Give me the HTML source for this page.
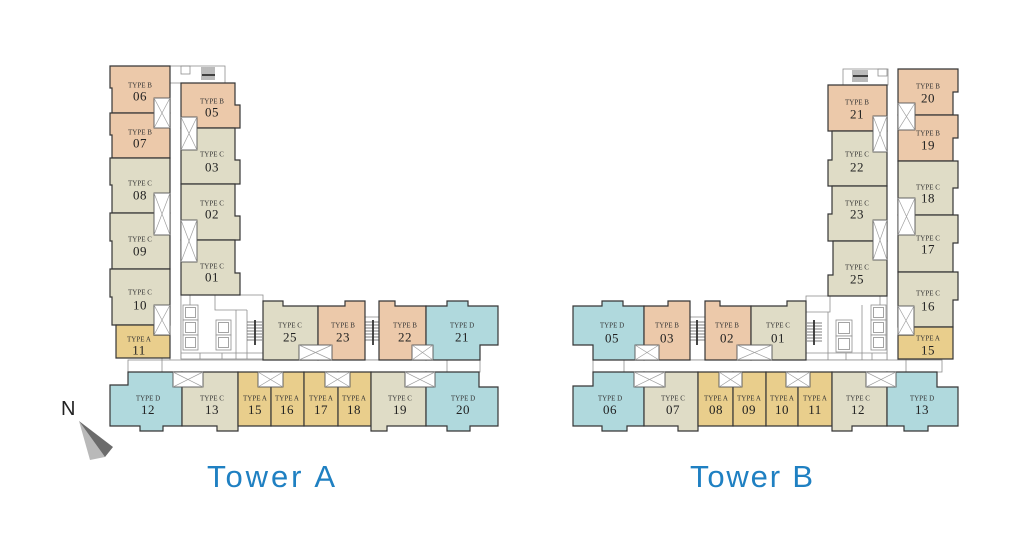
<!DOCTYPE html>
<html><head><meta charset="utf-8"><style>
html,body{margin:0;padding:0;background:#fff;}
svg{display:block;}
.u{stroke:#363636;stroke-width:1.2;stroke-linejoin:miter;}
.b{fill:#ecc9aa;} .c{fill:#dfdcc6;} .a{fill:#e9ce8c;} .d{fill:#b0d9dd;}
.g{fill:none;stroke:#8e8e8e;stroke-width:0.8;}
.gw{fill:#fff;stroke:#8e8e8e;stroke-width:0.8;}
.sl{fill:none;stroke:#555;stroke-width:0.8;}
.xr{fill:#fff;stroke:#555;stroke-width:0.9;}
.xl{fill:none;stroke:#a0a0a0;stroke-width:0.7;}
.st{stroke:#333;stroke-width:1.8;}
.t{font-family:"Liberation Serif",serif;font-size:7px;fill:#333;text-anchor:middle;}
.n{font-family:"Liberation Serif",serif;font-size:13px;fill:#222;text-anchor:middle;letter-spacing:0.5px;}
.tw{font-family:"Liberation Sans",sans-serif;font-size:31px;fill:#1f80c2;}
</style></head><body>
<svg width="1024" height="554" viewBox="0 0 1024 554" xmlns="http://www.w3.org/2000/svg">
<rect width="1024" height="554" fill="#fff"/>

<!-- ================= TOWER A ================= -->
<rect class="gw" x="170" y="66" width="55" height="17"/>
<rect class="g" x="181" y="66" width="9" height="8"/>
<path class="sl" d="M202 67V80M204 67V80M206 67V80M208 67V80M210 67V80M212 67V80M214 67V80"/>
<path class="st" d="M202 75H215"/>
<path class="g" d="M170 295V360M181 295V359"/>
<rect class="gw" x="181" y="295" width="82" height="64"/>
<path class="g" d="M190 295V305M215 295V310H247M236 310V359M247 310V359M181 353H263M200 353V359M222 353V359"/>
<rect class="gw" x="183" y="305" width="15" height="15"/><rect class="g" x="185.5" y="307.5" width="10" height="10"/>
<rect class="gw" x="183" y="320" width="15" height="15"/><rect class="g" x="185.5" y="322.5" width="10" height="10"/>
<rect class="gw" x="183" y="335" width="15" height="15"/><rect class="g" x="185.5" y="337.5" width="10" height="10"/>
<rect class="gw" x="216" y="320" width="15" height="15"/><rect class="g" x="218.5" y="322.5" width="10" height="10"/>
<rect class="gw" x="216" y="335" width="15" height="15"/><rect class="g" x="218.5" y="337.5" width="10" height="10"/>
<path class="sl" d="M247 322H262M247 325H262M247 328H262M247 331H262M247 334H262M247 337H262M247 340H262"/>
<path class="st" d="M255 320V345"/>
<rect class="gw" x="365" y="317" width="14" height="43"/>
<path class="sl" d="M365 322H379M365 325H379M365 328H379M365 331H379M365 334H379M365 337H379M365 340H379"/>
<path class="st" d="M373 320V345"/>
<rect class="gw" x="128" y="360" width="352" height="12"/>
<path class="g" d="M162 358V372M447 360V372"/>

<polygon class="u b" points="110,66 170,66 170,113 112,113 112,88 110,88"/>
<polygon class="u b" points="110,113 170,113 170,158 112,158 112,135 110,135"/>
<polygon class="u c" points="110,158 170,158 170,213 112,213 112,185 110,185"/>
<polygon class="u c" points="110,213 170,213 170,269 112,269 112,241 110,241"/>
<polygon class="u c" points="110,269 170,269 170,325 112,325 112,297 110,297"/>
<polygon class="u a" points="116,325 154,325 154,335 170,335 170,358 116,358"/>
<polygon class="u b" points="181,83 235,83 235,105 240,105 240,128 181,128"/>
<polygon class="u c" points="181,128 235,128 235,160 240,160 240,184 181,184"/>
<polygon class="u c" points="181,184 235,184 235,216 240,216 240,240 181,240"/>
<polygon class="u c" points="181,240 235,240 235,273 240,273 240,295 181,295"/>
<polygon class="u c" points="263,301 283,301 283,306 318,306 318,360 263,360"/>
<polygon class="u b" points="318,306 345,306 345,301 365,301 365,360 318,360"/>
<polygon class="u b" points="379,301 395,301 395,306 426,306 426,360 379,360"/>
<polygon class="u d" points="426,306 447,306 447,301 468,301 468,306 498,306 498,345 480,345 480,360 426,360"/>
<polygon class="u d" points="110,385 128,385 128,372 182,372 182,426 163,426 163,431 140,431 140,426 110,426"/>
<polygon class="u c" points="182,372 238,372 238,431 217,431 217,426 182,426"/>
<polygon class="u a" points="238,372 271,372 271,426 238,426"/>
<polygon class="u a" points="271,372 304,372 304,426 271,426"/>
<polygon class="u a" points="304,372 338,372 338,426 304,426"/>
<polygon class="u a" points="338,372 371,372 371,426 338,426"/>
<polygon class="u c" points="371,372 426,372 426,426 387,426 387,431 371,431"/>
<polygon class="u d" points="426,372 479,372 479,387 498,387 498,426 470,426 470,431 447,431 447,426 426,426"/>

<rect class="xr" x="154" y="98" width="16" height="30"/><path class="xl" d="M154 98L170 128M170 98L154 128"/>
<rect class="xr" x="154" y="193" width="16" height="42"/><path class="xl" d="M154 193L170 235M170 193L154 235"/>
<rect class="xr" x="154" y="305" width="16" height="30"/><path class="xl" d="M154 305L170 335M170 305L154 335"/>
<rect class="xr" x="181" y="117" width="16" height="33"/><path class="xl" d="M181 117L197 150M197 117L181 150"/>
<rect class="xr" x="181" y="220" width="16" height="42"/><path class="xl" d="M181 220L197 262M197 220L181 262"/>
<rect class="xr" x="299" y="345" width="33" height="15"/><path class="xl" d="M299 345L332 360M332 345L299 360"/>
<rect class="xr" x="412" y="345" width="21" height="15"/><path class="xl" d="M412 345L433 360M433 345L412 360"/>
<rect class="xr" x="173" y="372" width="30" height="15"/><path class="xl" d="M173 372L203 387M203 372L173 387"/>
<rect class="xr" x="258" y="372" width="25" height="15"/><path class="xl" d="M258 372L283 387M283 372L258 387"/>
<rect class="xr" x="325" y="372" width="25" height="15"/><path class="xl" d="M325 372L350 387M350 372L325 387"/>
<rect class="xr" x="405" y="372" width="30" height="15"/><path class="xl" d="M405 372L435 387M435 372L405 387"/>

<text class="t" x="140" y="87.5">TYPE B</text><text class="n" x="140" y="100.5">06</text>
<text class="t" x="140" y="134.5">TYPE B</text><text class="n" x="140" y="147.5">07</text>
<text class="t" x="140" y="185.5">TYPE C</text><text class="n" x="140" y="199.5">08</text>
<text class="t" x="140" y="241.5">TYPE C</text><text class="n" x="140" y="255.5">09</text>
<text class="t" x="140" y="294.5">TYPE C</text><text class="n" x="140" y="309.5">10</text>
<text class="t" x="139" y="341.5">TYPE A</text><text class="n" x="139" y="354.5">11</text>
<text class="t" x="212" y="103.5">TYPE B</text><text class="n" x="212" y="116.5">05</text>
<text class="t" x="212" y="156.5">TYPE C</text><text class="n" x="212" y="171.5">03</text>
<text class="t" x="212" y="205.5">TYPE C</text><text class="n" x="212" y="218.5">02</text>
<text class="t" x="212" y="268.5">TYPE C</text><text class="n" x="212" y="281.5">01</text>
<text class="t" x="290" y="327.5">TYPE C</text><text class="n" x="290" y="341.5">25</text>
<text class="t" x="343" y="327.5">TYPE B</text><text class="n" x="343" y="341.5">23</text>
<text class="t" x="405" y="327.5">TYPE B</text><text class="n" x="405" y="341.5">22</text>
<text class="t" x="462" y="327.5">TYPE D</text><text class="n" x="462" y="341.5">21</text>
<text class="t" x="148" y="400.5">TYPE D</text><text class="n" x="148" y="414">12</text>
<text class="t" x="212" y="400.5">TYPE C</text><text class="n" x="212" y="414">13</text>
<text class="t" x="255" y="400.5">TYPE A</text><text class="n" x="255" y="414">15</text>
<text class="t" x="287" y="400.5">TYPE A</text><text class="n" x="287" y="414">16</text>
<text class="t" x="321" y="400.5">TYPE A</text><text class="n" x="321" y="414">17</text>
<text class="t" x="354" y="400.5">TYPE A</text><text class="n" x="354" y="414">18</text>
<text class="t" x="400" y="400.5">TYPE C</text><text class="n" x="400" y="414">19</text>
<text class="t" x="463" y="400.5">TYPE D</text><text class="n" x="463" y="414">20</text>

<!-- ================= TOWER B ================= -->
<rect class="gw" x="843" y="69" width="45" height="16"/>
<rect class="g" x="878" y="69" width="9" height="7"/>
<path class="sl" d="M853 70V82M855 70V82M857 70V82M859 70V82M861 70V82M863 70V82M865 70V82M867 70V82"/>
<path class="st" d="M853 76H868"/>
<path class="g" d="M887 296V360M898 359V372"/>
<rect class="gw" x="806" y="296" width="81" height="64"/>
<path class="g" d="M880 296V305M830 296V312H806M828 312V360M862 305V360M806 353H887M846 353V360M872 353V360"/>
<rect class="gw" x="836" y="320" width="16" height="16"/><rect class="g" x="838.5" y="322.5" width="11" height="11"/>
<rect class="gw" x="836" y="336" width="16" height="16"/><rect class="g" x="838.5" y="338.5" width="11" height="11"/>
<rect class="gw" x="871" y="305" width="15" height="15"/><rect class="g" x="873.5" y="307.5" width="10" height="10"/>
<rect class="gw" x="871" y="320" width="15" height="15"/><rect class="g" x="873.5" y="322.5" width="10" height="10"/>
<rect class="gw" x="871" y="335" width="15" height="15"/><rect class="g" x="873.5" y="337.5" width="10" height="10"/>
<path class="sl" d="M807 323H822M807 326H822M807 329H822M807 332H822M807 335H822M807 338H822M807 341H822"/>
<path class="st" d="M814 320V345"/>
<rect class="gw" x="690" y="317" width="15" height="43"/>
<path class="sl" d="M690 322H705M690 325H705M690 328H705M690 331H705M690 334H705M690 337H705M690 340H705"/>
<path class="st" d="M697 320V345"/>
<rect class="gw" x="593" y="360" width="349" height="12"/>
<path class="g" d="M624 360V372M906 359V372"/>

<polygon class="u b" points="828,85 887,85 887,131 828,131"/>
<polygon class="u c" points="832,131 887,131 887,186 828,186 828,160 832,160"/>
<polygon class="u c" points="832,186 887,186 887,241 828,241 828,214 832,214"/>
<polygon class="u c" points="833,241 887,241 887,296 828,296 828,275 833,275"/>
<polygon class="u b" points="898,69 958,69 958,92 953,92 953,115 898,115"/>
<polygon class="u b" points="898,115 958,115 958,138 953,138 953,161 898,161"/>
<polygon class="u c" points="898,161 958,161 958,188 953,188 953,215 898,215"/>
<polygon class="u c" points="898,215 958,215 958,243 953,243 953,272 898,272"/>
<polygon class="u c" points="898,272 958,272 958,300 953,300 953,327 898,327"/>
<polygon class="u a" points="913,327 953,327 953,359 898,359 898,335 913,335"/>
<polygon class="u d" points="573,306 602,306 602,301 623,301 623,306 644,306 644,360 593,360 593,345 573,345"/>
<polygon class="u b" points="644,306 668,306 668,301 690,301 690,360 644,360"/>
<polygon class="u b" points="705,301 720,301 720,306 751,306 751,360 705,360"/>
<polygon class="u c" points="751,306 787,306 787,301 806,301 806,360 751,360"/>
<polygon class="u d" points="573,386 593,386 593,372 644,372 644,426 627,426 627,431 602,431 602,426 573,426"/>
<polygon class="u c" points="644,372 698,372 698,431 678,431 678,426 644,426"/>
<polygon class="u a" points="698,372 733,372 733,426 698,426"/>
<polygon class="u a" points="733,372 766,372 766,426 733,426"/>
<polygon class="u a" points="766,372 798,372 798,426 766,426"/>
<polygon class="u a" points="798,372 832,372 832,426 798,426"/>
<polygon class="u c" points="832,372 887,372 887,426 852,426 852,431 832,431"/>
<polygon class="u d" points="887,372 937,372 937,387 958,387 958,426 928,426 928,431 904,431 904,426 887,426"/>

<rect class="xr" x="873" y="116" width="14" height="36"/><path class="xl" d="M873 116L887 152M887 116L873 152"/>
<rect class="xr" x="873" y="220" width="14" height="40"/><path class="xl" d="M873 220L887 260M887 220L873 260"/>
<rect class="xr" x="898" y="103" width="17" height="27"/><path class="xl" d="M898 103L915 130M915 103L898 130"/>
<rect class="xr" x="898" y="198" width="17" height="37"/><path class="xl" d="M898 198L915 235M915 198L898 235"/>
<rect class="xr" x="898" y="306" width="16" height="29"/><path class="xl" d="M898 306L914 335M914 306L898 335"/>
<rect class="xr" x="635" y="345" width="24" height="15"/><path class="xl" d="M635 345L659 360M659 345L635 360"/>
<rect class="xr" x="737" y="345" width="35" height="15"/><path class="xl" d="M737 345L772 360M772 345L737 360"/>
<rect class="xr" x="634" y="372" width="31" height="15"/><path class="xl" d="M634 372L665 387M665 372L634 387"/>
<rect class="xr" x="719" y="372" width="23" height="15"/><path class="xl" d="M719 372L742 387M742 372L719 387"/>
<rect class="xr" x="786" y="372" width="24" height="15"/><path class="xl" d="M786 372L810 387M810 372L786 387"/>
<rect class="xr" x="866" y="372" width="30" height="15"/><path class="xl" d="M866 372L896 387M896 372L866 387"/>

<text class="t" x="857" y="104.5">TYPE B</text><text class="n" x="857" y="118.5">21</text>
<text class="t" x="857" y="156.5">TYPE C</text><text class="n" x="857" y="171.5">22</text>
<text class="t" x="857" y="205.5">TYPE C</text><text class="n" x="857" y="218.5">23</text>
<text class="t" x="857" y="269.5">TYPE C</text><text class="n" x="857" y="283.5">25</text>
<text class="t" x="928" y="88.5">TYPE B</text><text class="n" x="928" y="102.5">20</text>
<text class="t" x="928" y="135.5">TYPE B</text><text class="n" x="928" y="149.5">19</text>
<text class="t" x="928" y="189.5">TYPE C</text><text class="n" x="928" y="202.5">18</text>
<text class="t" x="928" y="240.5">TYPE C</text><text class="n" x="928" y="253.5">17</text>
<text class="t" x="928" y="295.5">TYPE C</text><text class="n" x="928" y="310.5">16</text>
<text class="t" x="928" y="340.5">TYPE A</text><text class="n" x="928" y="354.5">15</text>
<text class="t" x="612" y="327.5">TYPE D</text><text class="n" x="612" y="342.5">05</text>
<text class="t" x="667" y="327.5">TYPE B</text><text class="n" x="667" y="342.5">03</text>
<text class="t" x="727" y="327.5">TYPE B</text><text class="n" x="727" y="342.5">02</text>
<text class="t" x="778" y="327.5">TYPE C</text><text class="n" x="778" y="342.5">01</text>
<text class="t" x="610" y="400.5">TYPE D</text><text class="n" x="610" y="414">06</text>
<text class="t" x="673" y="400.5">TYPE C</text><text class="n" x="673" y="414">07</text>
<text class="t" x="716" y="400.5">TYPE A</text><text class="n" x="716" y="414">08</text>
<text class="t" x="749" y="400.5">TYPE A</text><text class="n" x="749" y="414">09</text>
<text class="t" x="782" y="400.5">TYPE A</text><text class="n" x="782" y="414">10</text>
<text class="t" x="815" y="400.5">TYPE A</text><text class="n" x="815" y="414">11</text>
<text class="t" x="858" y="400.5">TYPE C</text><text class="n" x="858" y="414">12</text>
<text class="t" x="922" y="400.5">TYPE D</text><text class="n" x="922" y="414">13</text>

<text x="61" y="415" style="font-family:'Liberation Sans',sans-serif;font-size:20px;fill:#222;">N</text>
<polygon points="79,421 90,460 105,457" fill="#b9b9b9"/>
<polygon points="79,421 113,447 105,457" fill="#6b6b6b"/>

<text class="tw" x="207" y="487" textLength="128" lengthAdjust="spacing">Tower A</text>
<text class="tw" x="690" y="487" textLength="123" lengthAdjust="spacing">Tower B</text>
</svg>
</body></html>
